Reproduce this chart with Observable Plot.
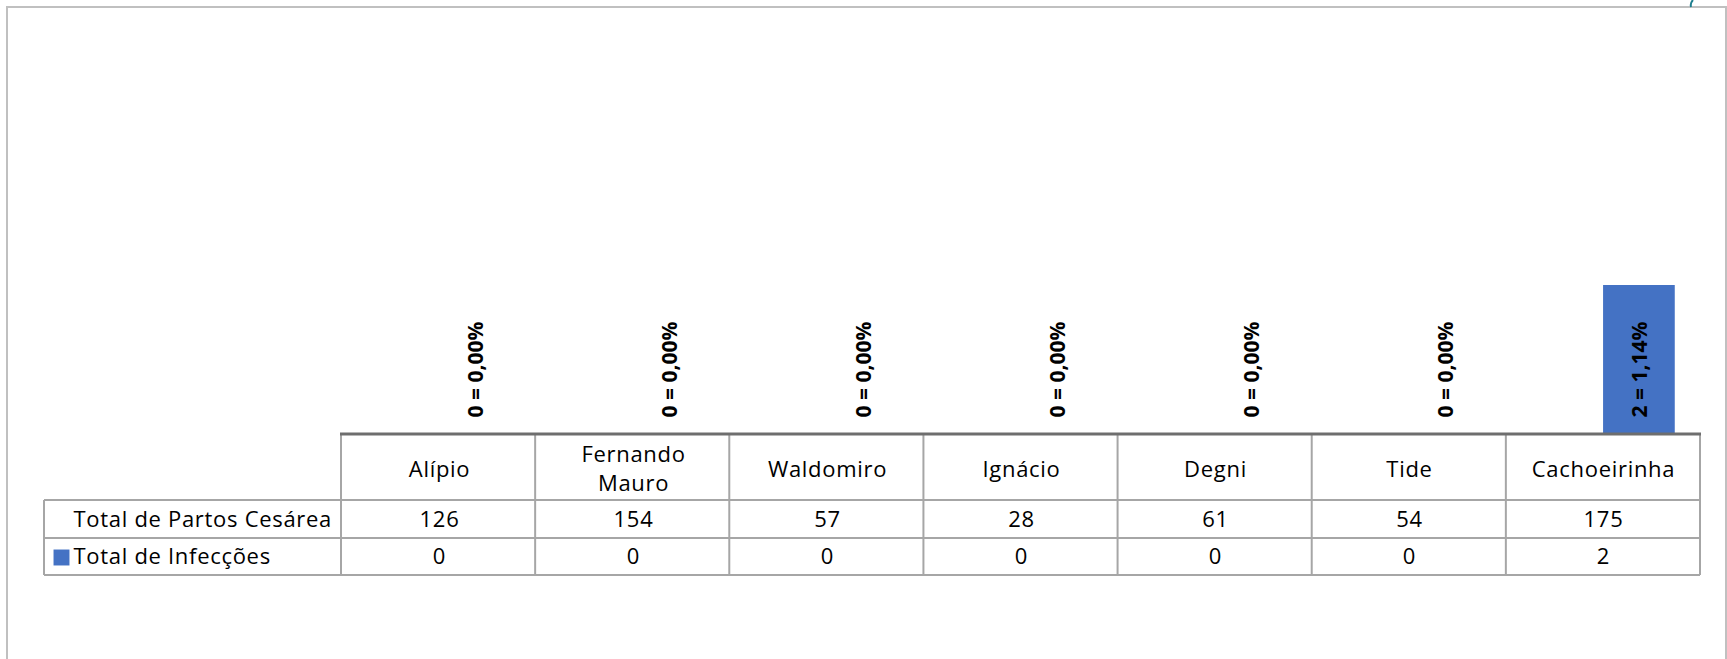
<!DOCTYPE html>
<html>
<head>
<meta charset="utf-8">
<script src="https://cdn.jsdelivr.net/npm/d3@7"></script>
<script src="https://cdn.jsdelivr.net/npm/@observablehq/plot@0.6"></script>
<style>
  html, body { margin: 0; padding: 0; background: #ffffff; }
  #chart { width: 1727px; height: 659px; overflow: hidden; }
  #chart svg .tbl, #chart svg .tbl text { letter-spacing: 0.7px; }
</style>
</head>
<body>
<div id="chart"></div>
<script>
// ---- data ----
const unidades = ["Alípio", "Fernando Mauro", "Waldomiro", "Ignácio", "Degni", "Tide", "Cachoeirinha"];
const partosCesarea = [126, 154, 57, 28, 61, 54, 175];
const infeccoes = [0, 0, 0, 0, 0, 0, 2];
const series = ["Total de Partos Cesárea", "Total de Infecções"];

// ---- layout ----
const W = 1727, H = 659;
const ML = 341, MR = 27, MT = 285, MB = 226;
const bw = (W - ML - MR) / unidades.length;
const gap = bw * 0.13;
const barW = (bw - 2 * gap) / 2;
const barColor = "#4472C4";
const font = "'Open Sans', 'Noto Sans', sans-serif";

const rows = unidades.map((u, i) => ({unidade: u, partos: partosCesarea[i], infeccoes: infeccoes[i]}));
const pct = d => (d.infeccoes / d.partos * 100).toFixed(2).replace(".", ",");
const tbl = {frameAnchor: "bottom", lineAnchor: "middle", fill: "#000", fontSize: 22, className: "tbl"};

const plot = Plot.plot({
  width: W,
  height: H,
  marginLeft: ML,
  marginRight: MR,
  marginTop: MT,
  marginBottom: MB,
  style: {fontFamily: font, fontSize: "22px", color: "#000", background: "#fff", overflow: "visible"},
  x: {domain: unidades, padding: 0, axis: null},
  y: {domain: [0, 2], axis: null},
  marks: [
    Plot.barY(rows, {x: "unidade", y: "infeccoes", fill: barColor, insetLeft: gap + barW, insetRight: gap}),
    Plot.text(rows, {
      x: "unidade", frameAnchor: "bottom", lineAnchor: "middle", text: d => `${d.infeccoes} = ${pct(d)}%`,
      rotate: -90, textAnchor: "start", dx: gap + 1.5 * barW - bw / 2 + 1, dy: -16,
      fontWeight: "bold", fontSize: 21, fill: "#000"
    }),
    Plot.text(rows, {...tbl, x: "unidade", text: d => d.unidade.split(" ").join("\n"), dy: 34, lineHeight: 1.3}),
    Plot.text(rows, {...tbl, x: "unidade", text: d => String(d.partos), dy: 86}),
    Plot.text(rows, {...tbl, x: "unidade", text: d => String(d.infeccoes), dy: 123}),
    Plot.text([series[0]], {...tbl, frameAnchor: "bottom-left", text: d => d, textAnchor: "start", dx: -268, dy: 86}),
    Plot.text([series[1]], {...tbl, frameAnchor: "bottom-left", text: d => d, textAnchor: "start", dx: -268, dy: 123}),
    Plot.dot([series[1]], {frameAnchor: "bottom-left", symbol: "square", r: 9, fill: barColor, stroke: null, dx: -280, dy: 124})
  ]
});

document.getElementById("chart").appendChild(plot);

// ---- table grid and outer frame, positioned from the plot's x scale ----
const xs = plot.scale("x");
const xScale = d3.scaleBand(xs.domain, xs.range).padding(0);
const edges = unidades.map(u => xScale(u)).concat([xScale(unidades[unidades.length - 1]) + xScale.bandwidth()]);
const base = H - MB;                // bottom of plot frame
const yHead = base + 1, yR1 = base + 67, yR2 = base + 105, yR3 = base + 142;
const tableLeft = 44;
const svg = d3.select(plot);
const g = svg.insert("g", ":first-child").attr("fill", "none");
const grey = "#a6a6a6";

// verticals
edges.forEach(x => {
  g.append("line").attr("x1", x).attr("x2", x).attr("y1", yHead).attr("y2", yR3)
    .attr("stroke", grey).attr("stroke-width", 2);
});
g.append("line").attr("x1", tableLeft).attr("x2", tableLeft).attr("y1", yR1).attr("y2", yR3)
  .attr("stroke", grey).attr("stroke-width", 2);
// horizontals
[yR1, yR2, yR3].forEach(y => {
  g.append("line").attr("x1", tableLeft).attr("x2", edges[edges.length - 1]).attr("y1", y).attr("y2", y)
    .attr("stroke", grey).attr("stroke-width", 2);
});
svg.append("line").attr("x1", edges[0] - 1).attr("x2", edges[edges.length - 1] + 1).attr("y1", yHead).attr("y2", yHead)
  .attr("stroke", "#6e6e6e").attr("stroke-width", 3);

// outer chart-area border
const fr = svg.append("g").attr("fill", "none").attr("stroke", "#c0c0c0").attr("stroke-width", 2);
fr.append("path").attr("d", `M7,${H + 5} L7,7 L1726,7 L1726,${H + 5}`);
// small teal fragment in the top-right corner
svg.append("path").attr("d", "M1693,0 Q1690,3 1691,7").attr("fill", "none").attr("stroke", "#1f7f8f").attr("stroke-width", 2);
</script>
</body>
</html>
